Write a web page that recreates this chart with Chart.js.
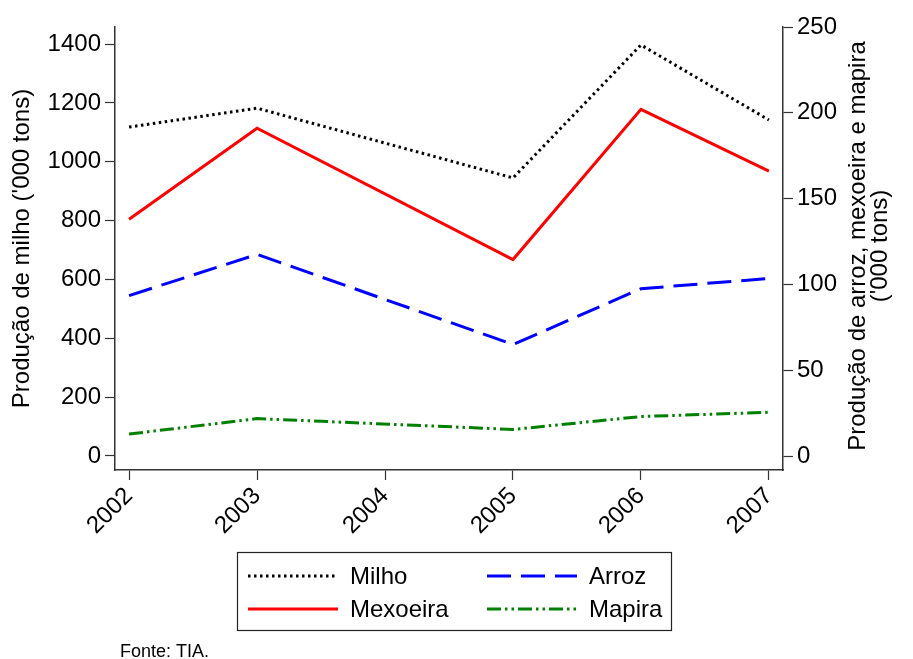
<!DOCTYPE html>
<html>
<head>
<meta charset="utf-8">
<script src="https://cdn.jsdelivr.net/npm/chart.js@4.4.1/dist/chart.umd.min.js"></script>
<style>
  html, body { margin: 0; padding: 0; background: #fff; }
  #wrap { width: 913px; height: 659px; position: relative; }
</style>
</head>
<body>
<div id="wrap"><canvas id="lineChart"></canvas></div>
<script>
// 2004 has no observation: the lines run straight from 2003 to 2005
const years = [2002, 2003, 2004, 2005, 2006, 2007];
const milho = [1118, 1182, null, 945, 1397, 1142];   // left axis
const mexoeira = [138, 191, null, 114.5, 202, 166];  // right axis
const arroz = [93.5, 117.5, null, 65, 97.5, 103.5];
const mapira = [12.8, 21.8, null, 15.5, 23, 25.5];
const leftTicks = [0, 200, 400, 600, 800, 1000, 1200, 1400];
const rightTicks = [0, 50, 100, 150, 200, 250];

const FONT = 'Liberation Sans, Arial, sans-serif';
const AXIS = '#333';

function pts(vals) {
    return years.map((y, i) => ({ x: y, y: vals[i] }));
}

const extras = {
    id: 'extras',
    afterDraw(chart) {
        const ctx = chart.ctx;
        const ds = chart.data.datasets;
        ctx.save();
        // right axis title, reading bottom to top
        ctx.fillStyle = '#000';
        ctx.font = '24px ' + FONT;
        ctx.textAlign = 'center';
        ctx.textBaseline = 'middle';
        ctx.translate(869, 246);
        ctx.rotate(-Math.PI / 2);
        ctx.fillText('Produção de arroz, mexoeira e mapira', 0, -11);
        ctx.fillText("('000 tons)", 0, 11);
        ctx.restore();

        // legend box
        ctx.save();
        ctx.strokeStyle = '#222';
        ctx.lineWidth = 1.2;
        ctx.strokeRect(237.5, 552.5, 434, 78);
        const slots = [
            { d: 0, x: 248, y: 576 },
            { d: 2, x: 487, y: 576 },
            { d: 1, x: 248, y: 609 },
            { d: 3, x: 487, y: 609 }
        ];
        ctx.font = '24px ' + FONT;
        ctx.textAlign = 'left';
        ctx.textBaseline = 'middle';
        slots.forEach(s => {
            const d = ds[s.d];
            ctx.beginPath();
            ctx.setLineDash(d.borderDash || []);
            ctx.strokeStyle = d.borderColor;
            ctx.lineWidth = d.borderWidth;
            ctx.moveTo(s.x, s.y);
            ctx.lineTo(s.x + 90, s.y);
            ctx.stroke();
            ctx.setLineDash([]);
            ctx.fillStyle = '#000';
            ctx.fillText(d.label, s.x + 102, s.y + 1);
        });

        // source note
        ctx.font = '18px ' + FONT;
        ctx.textBaseline = 'alphabetic';
        ctx.fillText('Fonte: TIA.', 120, 657);
        ctx.restore();
    }
};

document.addEventListener('DOMContentLoaded', function() {
    const ctx = document.getElementById('lineChart').getContext('2d');
    const lineChart = new Chart(ctx, {
        type: 'line',
        data: {
            datasets: [
                { label: 'Milho', data: pts(milho), yAxisID: 'yL', borderColor: '#000', borderWidth: 3, borderDash: [2.5, 3.5] },
                { label: 'Mexoeira', data: pts(mexoeira), yAxisID: 'yR', borderColor: '#ff0000', borderWidth: 3 },
                { label: 'Arroz', data: pts(arroz), yAxisID: 'yR', borderColor: '#0000ff', borderWidth: 3, borderDash: [24, 10] },
                { label: 'Mapira', data: pts(mapira), yAxisID: 'yR', borderColor: '#008000', borderWidth: 3, borderDash: [14, 4, 2.5, 4, 2.5, 4] }
            ]
        },
        options: {
            responsive: true,
            maintainAspectRatio: false,
            animation: false,
            spanGaps: true,
            layout: { padding: { top: 27, left: 0, right: 0, bottom: 0 } },
            elements: { point: { radius: 0 }, line: { tension: 0 } },
            plugins: {
                legend: { display: false },
                tooltip: { enabled: false }
            },
            scales: {
                x: {
                    type: 'linear',
                    min: 2001.89,
                    max: 2007.11,
                    afterBuildTicks: s => { s.ticks = years.map(v => ({ value: v })); },
                    afterFit: s => { s.height = 189; },
                    ticks: {
                        autoSkip: false,
                        minRotation: 45,
                        maxRotation: 45,
                        padding: 2,
                        color: '#000',
                        font: { family: FONT, size: 24 },
                        callback: v => String(v)
                    },
                    grid: { drawOnChartArea: false, color: AXIS, tickLength: 10, tickWidth: 1.2 },
                    border: { color: AXIS, width: 1.5 }
                },
                yL: {
                    position: 'left',
                    min: -47.6,
                    max: 1458,
                    afterBuildTicks: s => { s.ticks = leftTicks.map(v => ({ value: v })); },
                    afterFit: s => { s.width = 115; },
                    ticks: { color: '#000', padding: 4, font: { family: FONT, size: 24 }, callback: v => String(v) },
                    grid: { drawOnChartArea: false, color: AXIS, tickLength: 10, tickWidth: 1.2 },
                    border: { color: AXIS, width: 1.5 },
                    title: {
                        display: true,
                        text: "Produção de milho ('000 tons)",
                        color: '#000',
                        font: { family: FONT, size: 24 },
                        padding: { top: 8, bottom: 0 }
                    }
                },
                yR: {
                    position: 'right',
                    min: -8.14,
                    max: 250,
                    afterBuildTicks: s => { s.ticks = rightTicks.map(v => ({ value: v })); },
                    afterFit: s => { s.width = 130; },
                    ticks: { color: '#000', padding: 4, font: { family: FONT, size: 24 }, callback: v => String(v) },
                    grid: { drawOnChartArea: false, color: AXIS, tickLength: 10, tickWidth: 1.2 },
                    border: { color: AXIS, width: 1.5 }
                }
            }
        },
        plugins: [extras]
    });
});
</script>
</body>
</html>
